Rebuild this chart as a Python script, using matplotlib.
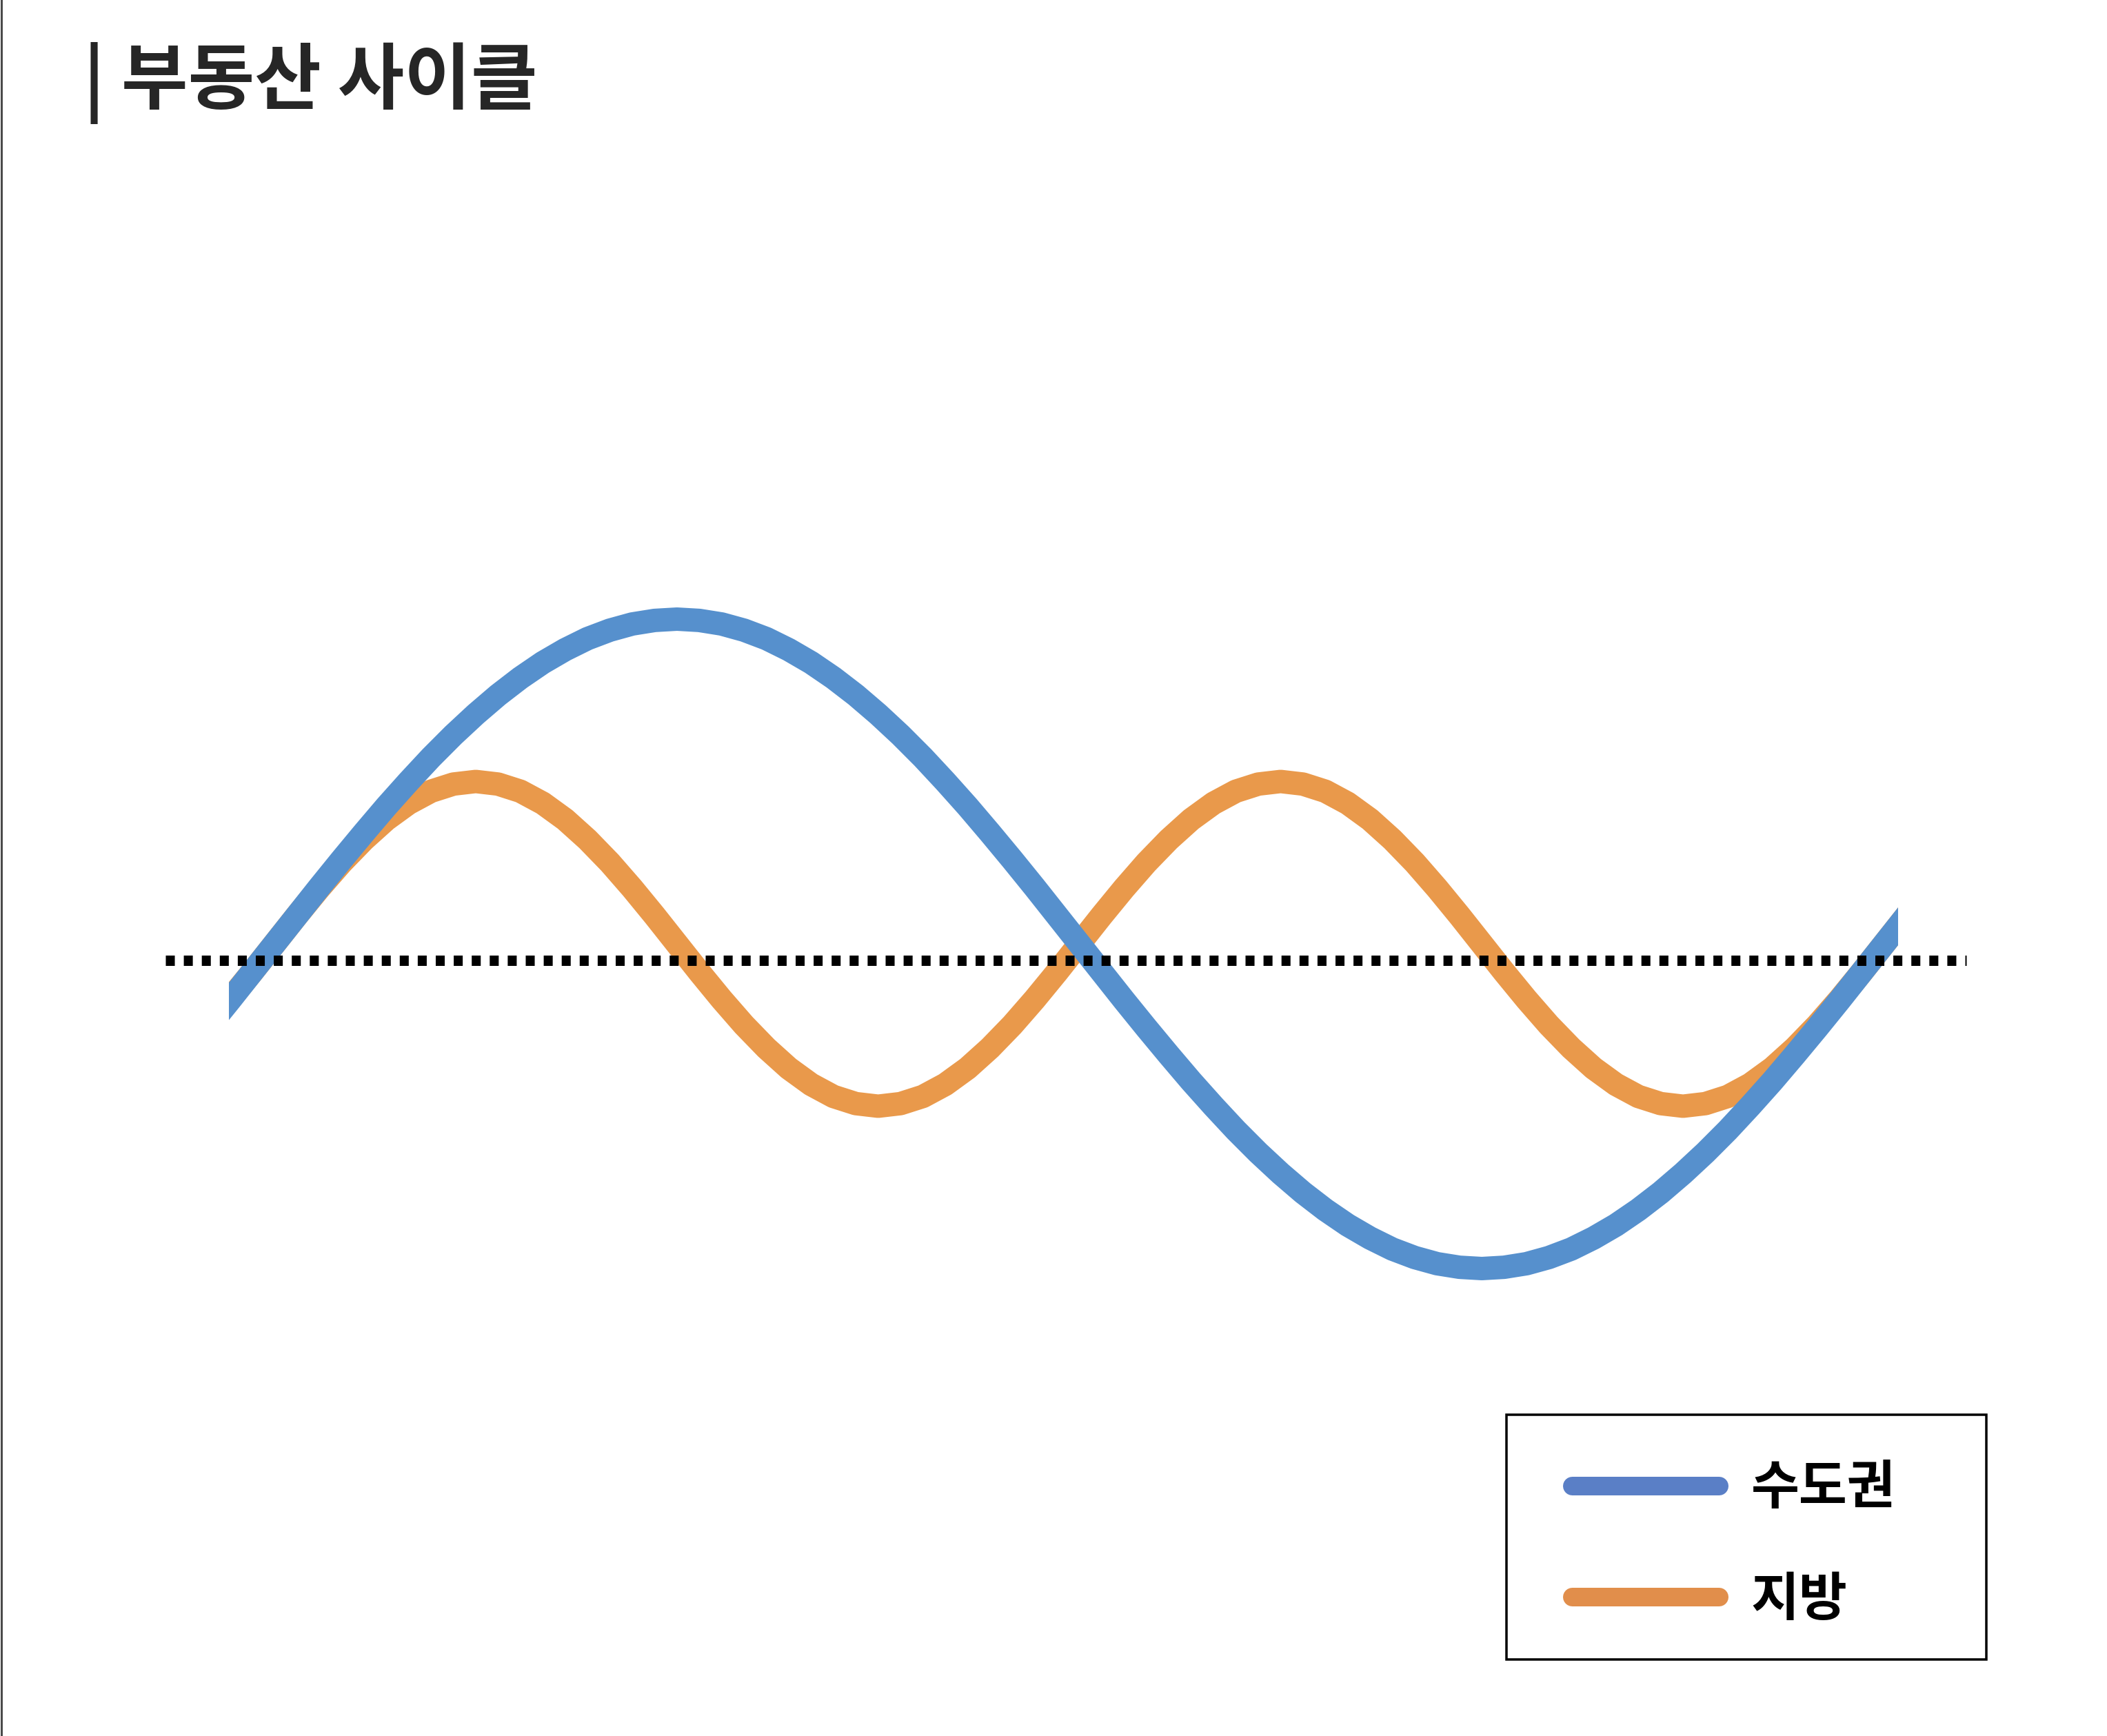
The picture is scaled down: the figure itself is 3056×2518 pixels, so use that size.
import matplotlib
matplotlib.use("Agg")
import matplotlib.pyplot as plt
from matplotlib.lines import Line2D
from matplotlib.patches import Rectangle
import matplotlib.transforms as mtransforms

plt.rcParams['font.family'] = ['Noto Sans CJK KR', 'DejaVu Sans']

# ---- data ----
phase = [-20, -15, -10, -5,
         0, 5, 10, 15, 20, 25, 30, 35, 40, 45, 50, 55, 60, 65, 70, 75, 80, 85,
         90, 95, 100, 105, 110, 115, 120, 125, 130, 135, 140, 145, 150, 155, 160, 165, 170, 175,
         180, 185, 190, 195, 200, 205, 210, 215, 220, 225, 230, 235, 240, 245, 250, 255, 260, 265,
         270, 275, 280, 285, 290, 295, 300, 305, 310, 315, 320, 325, 330, 335, 340, 345, 350, 355,
         360, 365, 370]
capital = [-0.342, -0.259, -0.174, -0.087,
           0.000, 0.087, 0.174, 0.259, 0.342, 0.423, 0.500, 0.574, 0.643, 0.707, 0.766, 0.819,
           0.866, 0.906, 0.940, 0.966, 0.985, 0.996,
           1.000, 0.996, 0.985, 0.966, 0.940, 0.906, 0.866, 0.819, 0.766, 0.707, 0.643, 0.574,
           0.500, 0.423, 0.342, 0.259, 0.174, 0.087,
           0.000, -0.087, -0.174, -0.259, -0.342, -0.423, -0.500, -0.574, -0.643, -0.707, -0.766,
           -0.819, -0.866, -0.906, -0.940, -0.966, -0.985, -0.996,
           -1.000, -0.996, -0.985, -0.966, -0.940, -0.906, -0.866, -0.819, -0.766, -0.707, -0.643,
           -0.574, -0.500, -0.423, -0.342, -0.259, -0.174, -0.087,
           0.000, 0.087, 0.174]
regional = [-0.321, -0.250, -0.171, -0.087,
            0.000, 0.087, 0.171, 0.250, 0.321, 0.383, 0.433, 0.470, 0.492, 0.500, 0.492, 0.470,
            0.433, 0.383, 0.321, 0.250, 0.171, 0.087,
            0.000, -0.087, -0.171, -0.250, -0.321, -0.383, -0.433, -0.470, -0.492, -0.500, -0.492,
            -0.470, -0.433, -0.383, -0.321, -0.250, -0.171, -0.087,
            0.000, 0.087, 0.171, 0.250, 0.321, 0.383, 0.433, 0.470, 0.492, 0.500, 0.492, 0.470,
            0.433, 0.383, 0.321, 0.250, 0.171, 0.087,
            0.000, -0.087, -0.171, -0.250, -0.321, -0.383, -0.433, -0.470, -0.492, -0.500, -0.492,
            -0.470, -0.433, -0.383, -0.321, -0.250, -0.171, -0.087,
            0.000, 0.087, 0.171]
baseline = -0.05
series_names = ['수도권', '지방']
title = '| 부동산 사이클'

W, H, DPI = 3056, 2518, 100
fig = plt.figure(figsize=(W / DPI, H / DPI), dpi=DPI)
fig.patch.set_facecolor('white')

def px(p):
    return p * 72.0 / DPI

# axes placement in pixels
left_px, right_px, top_px, bot_px = 332, 2753, 800, 1900
ax = fig.add_axes([left_px / W, 1 - bot_px / H, (right_px - left_px) / W, (bot_px - top_px) / H])
ax.set_xlim(-10.2, 363.1)
ax.set_ylim(-1.1274, 1.2081)
ax.axis('off')

blue = '#5690CD'
orange = '#E9994B'
ax.plot(phase, regional, color=orange, lw=px(34), solid_capstyle='butt',
        solid_joinstyle='round', zorder=2)
ax.plot(phase, capital, color=blue, lw=px(34), solid_capstyle='butt',
        solid_joinstyle='round', zorder=3)

trans = mtransforms.blended_transform_factory(ax.transAxes, ax.transData)
ax.plot([-0.038, 1.041], [baseline, baseline], transform=trans, clip_on=False,
        color='black', lw=px(15), linestyle=(0, (0.87, 0.87)),
        dash_capstyle='butt', zorder=4)

# legend (content) + its border box
handles = [Line2D([], [], color='#5A7FC6', lw=px(27), solid_capstyle='round'),
           Line2D([], [], color='#E18E4B', lw=px(27), solid_capstyle='round')]
F = 76
leg = fig.legend(handles, series_names, loc='upper left',
                 bbox_to_anchor=(2280 / W, 1 - 2120 / H),
                 prop={'size': px(F), 'weight': 'bold'}, frameon=False,
                 handlelength=2.8, handletextpad=0.62, labelspacing=1.1,
                 borderpad=0, borderaxespad=0)
lx0, ly0, lx1, ly1 = 2185, 2052, 2881, 2407
fig.add_artist(Rectangle((lx0 / W, 1 - ly1 / H), (lx1 - lx0) / W, (ly1 - ly0) / H,
                         transform=fig.transFigure, facecolor='none',
                         edgecolor='black', lw=px(3.5), zorder=1))

# title
fig.text(121 / W, 1 - 121 / H, title, ha='left', va='center',
         fontsize=px(105), fontweight='bold', color='#262626')

# left border line
fig.add_artist(Line2D([1.5 / W, 1.5 / W], [0, 1], color='#4a4a4a', lw=px(3),
                      transform=fig.transFigure))

fig.savefig('out.png', dpi=DPI, facecolor='white')
